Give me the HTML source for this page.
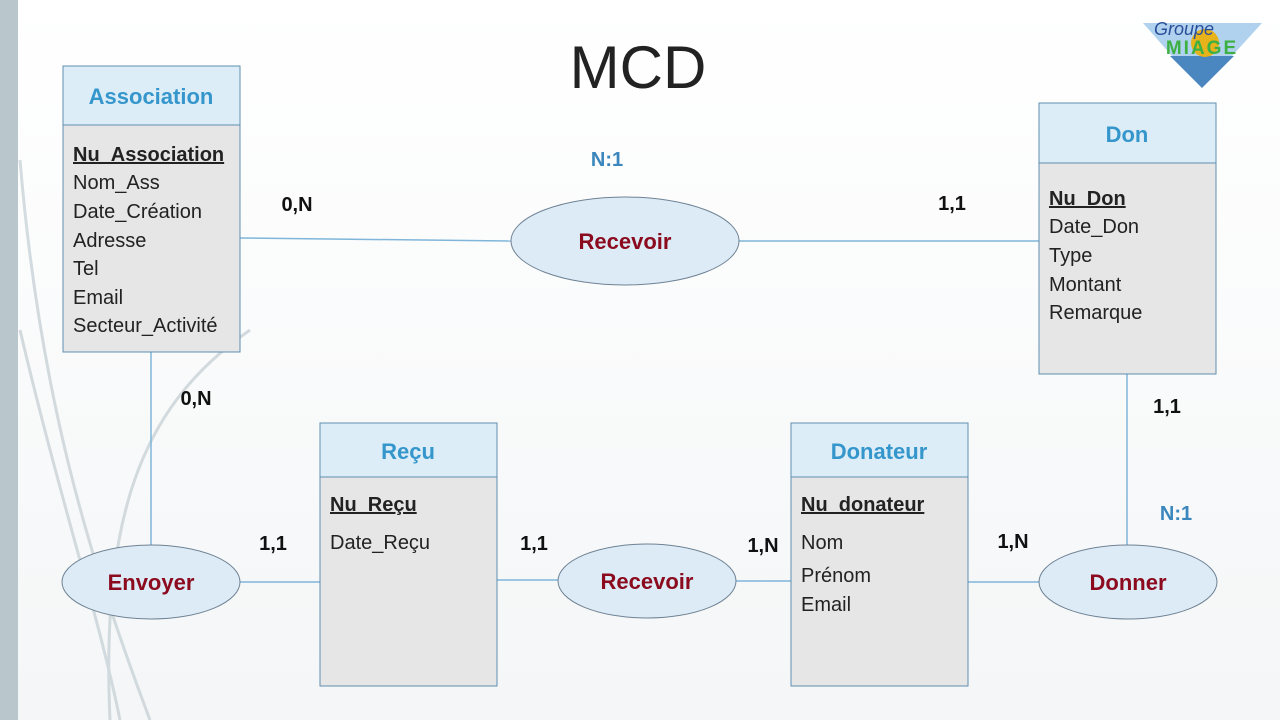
<!DOCTYPE html>
<html><head><meta charset="utf-8"><style>
html,body{margin:0;padding:0;background:#fff;}
svg{display:block;}
text{font-family:"Liberation Sans",sans-serif;}
</style></head><body>
<svg width="1280" height="720" viewBox="0 0 1280 720" xmlns="http://www.w3.org/2000/svg">
<defs>
<linearGradient id="bg" x1="0" y1="0" x2="0" y2="1"><stop offset="0" stop-color="#ffffff"/><stop offset="1" stop-color="#f4f6f7"/></linearGradient>
</defs>
<rect width="1280" height="720" fill="url(#bg)"/>
<rect x="0" y="0" width="18" height="720" fill="#b9c7cd"/>
<g fill="none" stroke="#c9d3d8" stroke-width="3" opacity="0.8">
<path d="M20 160 C40 400 90 560 150 720"/>
<path d="M20 330 C60 500 100 620 120 720"/>
<path d="M250 330 C150 400 100 500 110 720"/>
</g>
<text x="638" y="88" font-size="60" text-anchor="middle" fill="#222">MCD</text>
<!-- logo -->
<polygon points="1143,23 1262,23 1232,56 1172,56" fill="#b0d2ee"/>
<polygon points="1170,56 1234,56 1202,88" fill="#4a86c0"/>
<circle cx="1205" cy="43" r="14" fill="#e7b21a"/>
<text x="1202" y="54" font-size="19" font-family="Liberation Serif" font-weight="bold" fill="#3cb043" text-anchor="middle" letter-spacing="2">MIAGE</text>
<text x="1184" y="35" font-size="18" font-family="Liberation Serif" font-style="italic" fill="#2a4f9a" text-anchor="middle">Groupe</text>
<!-- lines -->
<g stroke="#7fb6da" stroke-width="1.5" fill="none">
<line x1="240" y1="238" x2="511" y2="241"/>
<line x1="739" y1="241" x2="1039" y2="241"/>
<line x1="151" y1="352" x2="151" y2="545"/>
<line x1="240" y1="582" x2="320" y2="582"/>
<line x1="497" y1="580" x2="558" y2="580"/>
<line x1="736" y1="581" x2="791" y2="581"/>
<line x1="968" y1="582" x2="1039" y2="582"/>
<line x1="1127" y1="374" x2="1127" y2="545"/>
</g>
<!-- entities -->
<g stroke="#5f8fb0" stroke-width="1">
<rect x="63" y="66" width="177" height="286" fill="#e6e6e6"/><rect x="63" y="66" width="177" height="59" fill="#dcedf8"/>
<rect x="1039" y="103" width="177" height="271" fill="#e6e6e6"/><rect x="1039" y="103" width="177" height="60" fill="#dcedf8"/>
<rect x="320" y="423" width="177" height="263" fill="#e6e6e6"/><rect x="320" y="423" width="177" height="54" fill="#dcedf8"/>
<rect x="791" y="423" width="177" height="263" fill="#e6e6e6"/><rect x="791" y="423" width="177" height="54" fill="#dcedf8"/>
</g>
<g font-size="22" font-weight="bold" fill="#3596cc" text-anchor="middle">
<text x="151" y="104">Association</text>
<text x="1127" y="142">Don</text>
<text x="408" y="459">Reçu</text>
<text x="879" y="459">Donateur</text>
</g>
<g font-size="20" fill="#222">
<text x="73" y="161" font-weight="bold" text-decoration="underline">Nu_Association</text>
<text x="73" y="189">Nom_Ass</text>
<text x="73" y="218">Date_Création</text>
<text x="73" y="247">Adresse</text>
<text x="73" y="275">Tel</text>
<text x="73" y="304">Email</text>
<text x="73" y="332">Secteur_Activité</text>
<text x="1049" y="205" font-weight="bold" text-decoration="underline">Nu_Don</text>
<text x="1049" y="233">Date_Don</text>
<text x="1049" y="262">Type</text>
<text x="1049" y="291">Montant</text>
<text x="1049" y="319">Remarque</text>
<text x="330" y="511" font-weight="bold" text-decoration="underline">Nu_Reçu</text>
<text x="330" y="549">Date_Reçu</text>
<text x="801" y="511" font-weight="bold" text-decoration="underline">Nu_donateur</text>
<text x="801" y="549">Nom</text>
<text x="801" y="582">Prénom</text>
<text x="801" y="611">Email</text>
</g>
<!-- associations -->
<g fill="#dcebf6" stroke="#6f8294" stroke-width="1">
<ellipse cx="625" cy="241" rx="114" ry="44"/>
<ellipse cx="151" cy="582" rx="89" ry="37"/>
<ellipse cx="647" cy="581" rx="89" ry="37"/>
<ellipse cx="1128" cy="582" rx="89" ry="37"/>
</g>
<g font-size="22" font-weight="bold" fill="#8b0a1e" text-anchor="middle">
<text x="625" y="249">Recevoir</text>
<text x="151" y="590">Envoyer</text>
<text x="647" y="589">Recevoir</text>
<text x="1128" y="590">Donner</text>
</g>
<!-- cardinalities -->
<g font-size="20" font-weight="bold" fill="#111" text-anchor="middle">
<text x="297" y="211">0,N</text>
<text x="952" y="210">1,1</text>
<text x="196" y="405">0,N</text>
<text x="1167" y="413">1,1</text>
<text x="273" y="550">1,1</text>
<text x="534" y="550">1,1</text>
<text x="763" y="552">1,N</text>
<text x="1013" y="548">1,N</text>
</g>
<g font-size="20" font-weight="bold" fill="#3a86bd" text-anchor="middle">
<text x="607" y="166">N:1</text>
<text x="1176" y="520">N:1</text>
</g>
</svg>
</body></html>
